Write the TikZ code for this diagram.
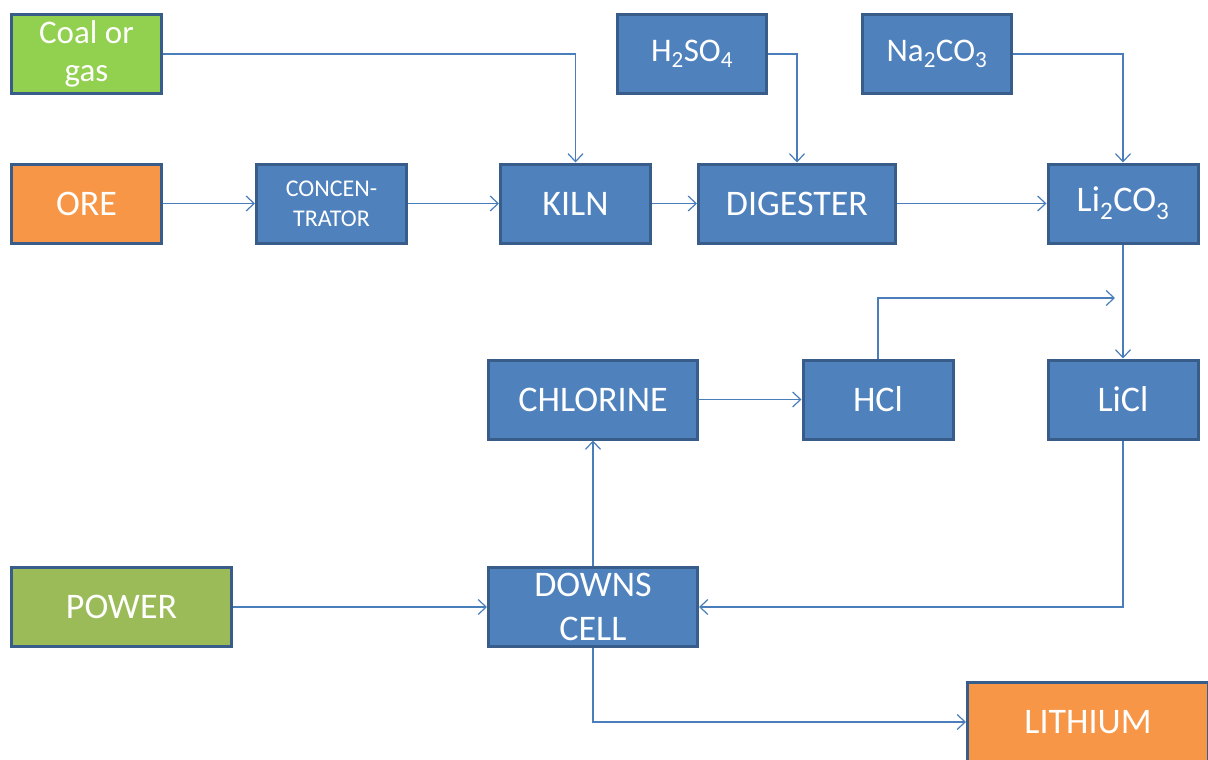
\documentclass[tikz,border=0pt]{standalone}
\usepackage{fontspec}
\setmainfont{Carlito}
\usetikzlibrary{arrows.meta}
\definecolor{boxblue}{HTML}{4F81BD}
\definecolor{boxedge}{HTML}{385D8A}
\definecolor{coalgreen}{HTML}{92D050}
\definecolor{powergreen}{HTML}{9BBB59}
\definecolor{oreorange}{HTML}{F79646}
\definecolor{linkblue}{HTML}{4A7EBB}
\begin{document}
\begin{tikzpicture}[x=1pt,y=-1pt,
  box/.style={draw=boxedge,line width=3pt,fill=boxblue,text=white,
    font=\fontsize{36}{38}\selectfont,align=center,inner sep=0pt,
    minimum width=150pt,minimum height=79pt},
  link/.style={draw=linkblue,line width=1.2pt,
    -{Straight Barb[length=8pt,width=15pt,line width=1.2pt]}}]
\useasboundingbox (0,0) rectangle (1208,760);
\node[box,fill=coalgreen,font=\fontsize{33}{38}\selectfont] (coal) at (86.5,54) {Coal or\\gas};
\node[box,fill=oreorange] (ore) at (86.5,203.5) {ORE};
\node[box,font=\fontsize{24}{30}\selectfont] (conc) at (331.5,203.5) {CONCEN-\\TRATOR};
\node[box] (kiln) at (575.5,203.5) {KILN};
\node[box,minimum width=197pt] (dig) at (797,203.5) {DIGESTER};
\node[box,minimum width=149pt,font=\fontsize{33}{38}\selectfont] (h2so4) at (692,54) {H\textsubscript{2}SO\textsubscript{4}};
\node[box,minimum width=149pt,font=\fontsize{33}{38}\selectfont] (na) at (937,54) {Na\textsubscript{2}CO\textsubscript{3}};
\node[box] (li2) at (1123,203.5) {Li\textsubscript{2}CO\textsubscript{3}};
\node[box,minimum width=209pt] (chl) at (593,399.5) {CHLORINE};
\node[box] (hcl) at (878,399.5) {HCl};
\node[box] (licl) at (1123,399.5) {LiCl};
\node[box,fill=powergreen,minimum width=220pt] (power) at (121.5,607) {POWER};
\node[box,minimum width=209pt,font=\fontsize{36}{44}\selectfont] (downs) at (593,607) {DOWNS\\CELL};
\node[box,fill=oreorange,minimum width=241pt] (lith) at (1088,722) {LITHIUM};
\coordinate (hclturn) at (1115,298);
\draw[link] (coal.east) -| (kiln.north);
\draw[link] (ore.east) -- (conc.west);
\draw[link] (conc.east) -- (kiln.west);
\draw[link] (kiln.east) -- (dig.west);
\draw[link] (h2so4.east) -| (dig.north);
\draw[link] (na.east) -| (li2.north);
\draw[link] (dig.east) -- (li2.west);
\draw[link] (li2.south) -- (licl.north);
\draw[link] (hcl.north) |- (hclturn);
\draw[link] (chl.east) -- (hcl.west);
\draw[link] (downs.north) -- (chl.south);
\draw[link] (power.east) -- (downs.west);
\draw[link] (licl.south) |- (downs.east);
\draw[link] (downs.south) |- (lith.west);
\end{tikzpicture}
\end{document}
